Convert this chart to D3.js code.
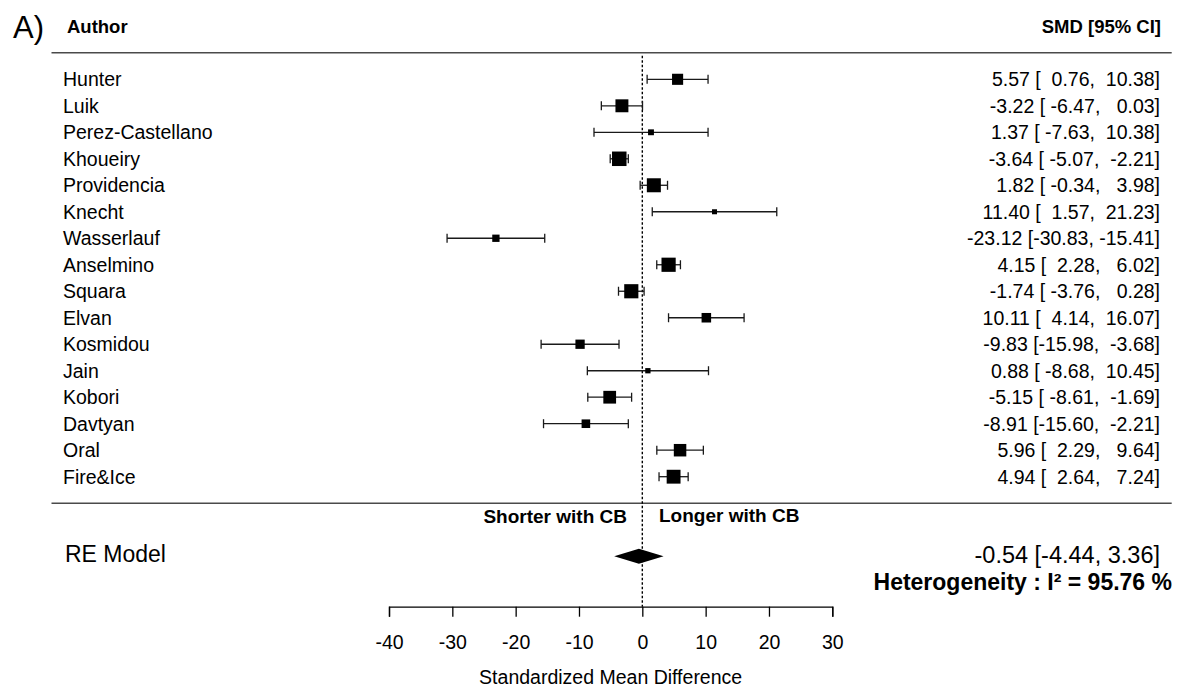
<!DOCTYPE html>
<html>
<head>
<meta charset="utf-8">
<script src="https://cdn.jsdelivr.net/npm/d3@7"></script>
<style>
  html, body { margin: 0; padding: 0; background: #fff; }
  svg text { font-family: "Liberation Sans", Arial, Helvetica, sans-serif; fill: #000; }
</style>
</head>
<body>
<svg id="chart" width="1181" height="689"></svg>
<script>
// ---------------- data ----------------
const authors = ["Hunter", "Luik", "Perez-Castellano", "Khoueiry", "Providencia", "Knecht",
  "Wasserlauf", "Anselmino", "Squara", "Elvan", "Kosmidou", "Jain", "Kobori", "Davtyan",
  "Oral", "Fire&Ice"];
const smd   = [5.57, -3.22, 1.37, -3.64, 1.82, 11.40, -23.12, 4.15, -1.74, 10.11, -9.83, 0.88, -5.15, -8.91, 5.96, 4.94];
const lower = [0.76, -6.47, -7.63, -5.07, -0.34, 1.57, -30.83, 2.28, -3.76, 4.14, -15.98, -8.68, -8.61, -15.60, 2.29, 2.64];
const upper = [10.38, 0.03, 10.38, -2.21, 3.98, 21.23, -15.41, 6.02, 0.28, 16.07, -3.68, 10.45, -1.69, -2.21, 9.64, 7.24];
// study weights (%)
const weights = [6.42, 7.16, 4.31, 7.79, 7.59, 3.96, 4.89, 7.67, 7.65, 5.79, 5.69, 4.08, 7.08, 5.41, 6.98, 7.53];
const summaryLabel = "RE Model";
const summaryEst = [-0.54];
const summaryCI = [-4.44, 3.36];
const heterogeneityI2 = [95.76];
const xTicks = [-40, -30, -20, -10, 0, 10, 20, 30];
const leftDirection = "Shorter with CB";
const rightDirection = "Longer with CB";
const xTitle = "Standardized Mean Difference";

// ---------------- layout ----------------
const svg = d3.select("#chart");
const FONT = 19.5;
const x = d3.scaleLinear().domain([-40, 30]).range([389, 832.3]);
// row numbers as in a forest plot: first study = 16, last = 1
const nRows = authors.length;
const y = d3.scaleLinear().domain([1, nRows]).range([476.7, 79.3]);
const rowOf = i => nRows - i;
const size = d3.scaleLinear().domain(d3.extent(weights)).range([5, 14.5]);

const fmt = v => v.toFixed(2);
const pad = (s, w) => s.padStart(w, " ");
const wL = d3.max(lower, v => fmt(v).length);
const wU = d3.max(upper, v => fmt(v).length);

// panel label
svg.append("text").attr("x", 13).attr("y", 38).attr("font-size", 31).text("A)");

// headers
svg.append("text").attr("x", 67).attr("y", y(18) + 6.5).attr("font-size", 18.5)
  .attr("font-weight", "bold").text("Author");
svg.append("text").attr("x", 1161).attr("y", y(18) + 6.5).attr("font-size", 18.5)
  .attr("font-weight", "bold").attr("text-anchor", "end").text("SMD [95% CI]");

// separator lines
[17, 0].forEach(r => {
  svg.append("line").attr("x1", 51.5).attr("x2", 1171.7)
    .attr("y1", y(r)).attr("y2", y(r))
    .attr("stroke", "#4a4a4a").attr("stroke-width", 1.6);
});

// reference line at 0
svg.append("line").attr("x1", x(0)).attr("x2", x(0))
  .attr("y1", y(17) + 3).attr("y2", 606.7)
  .attr("stroke", "#000").attr("stroke-width", 1.4).attr("stroke-dasharray", "2.5,2");

// study rows
const g = svg.append("g");
authors.forEach((a, i) => {
  const yy = y(rowOf(i));
  g.append("text").attr("x", 63).attr("y", yy).attr("dy", "0.36em")
    .attr("font-size", FONT).text(a);
  // CI
  g.append("line").attr("x1", x(lower[i])).attr("x2", x(upper[i]))
    .attr("y1", yy).attr("y2", yy).attr("stroke", "#1a1a1a").attr("stroke-width", 1.3);
  [lower[i], upper[i]].forEach(v => {
    g.append("line").attr("x1", x(v)).attr("x2", x(v))
      .attr("y1", yy - 4.5).attr("y2", yy + 4.5)
      .attr("stroke", "#1a1a1a").attr("stroke-width", 1.3);
  });
  const s = size(weights[i]);
  g.append("rect").attr("x", x(smd[i]) - s / 2).attr("y", yy - s / 2)
    .attr("width", s).attr("height", s).attr("fill", "#000");
  const txt = fmt(smd[i]) + " [" + pad(fmt(lower[i]), wL) + ", " + pad(fmt(upper[i]), wU) + "]";
  g.append("text").attr("x", 1160).attr("y", yy).attr("dy", "0.36em")
    .attr("font-size", FONT).attr("text-anchor", "end")
    .style("white-space", "pre").text(txt);
});

// direction labels
svg.append("text").attr("x", 627).attr("y", 523).attr("font-size", 19)
  .attr("font-weight", "bold").attr("text-anchor", "end").text(leftDirection);
svg.append("text").attr("x", 659).attr("y", 522).attr("font-size", 19)
  .attr("font-weight", "bold").text(rightDirection);

// summary
const ys = y(-2);
svg.append("text").attr("x", 65).attr("y", ys - 2).attr("dy", "0.36em")
  .attr("font-size", 23).text(summaryLabel);
svg.append("path")
  .attr("d", `M${x(summaryCI[0])},${ys} L${x(summaryEst[0])},${ys - 7.5} L${x(summaryCI[1])},${ys} L${x(summaryEst[0])},${ys + 7.5} Z`)
  .attr("fill", "#000");
svg.append("text").attr("x", 1160).attr("y", ys - 2).attr("dy", "0.36em")
  .attr("font-size", 23.5).attr("text-anchor", "end")
  .text(fmt(summaryEst[0]) + " [" + fmt(summaryCI[0]) + ", " + fmt(summaryCI[1]) + "]");
svg.append("text").attr("x", 1172).attr("y", y(-3) - 1).attr("dy", "0.36em")
  .attr("font-size", 23).attr("font-weight", "bold").attr("text-anchor", "end")
  .text("Heterogeneity : I\u00B2 = " + fmt(heterogeneityI2[0]) + " %");

// axis
const axis = d3.axisBottom(x).tickValues(xTicks).tickSize(10).tickPadding(18)
  .tickFormat(d => String(d));
const ag = svg.append("g").attr("transform", "translate(0,606.7)").call(axis);
ag.select(".domain").attr("stroke", "#000").attr("stroke-width", 1.3);
ag.selectAll(".tick line").attr("stroke", "#000").attr("stroke-width", 1.3);
ag.selectAll(".tick text").attr("font-size", FONT)
  .attr("font-family", "'Liberation Sans', Arial, Helvetica, sans-serif").attr("fill", "#000");

svg.append("text").attr("x", x(-5)).attr("y", 684).attr("font-size", FONT)
  .attr("text-anchor", "middle").text(xTitle);
</script>
</body>
</html>
